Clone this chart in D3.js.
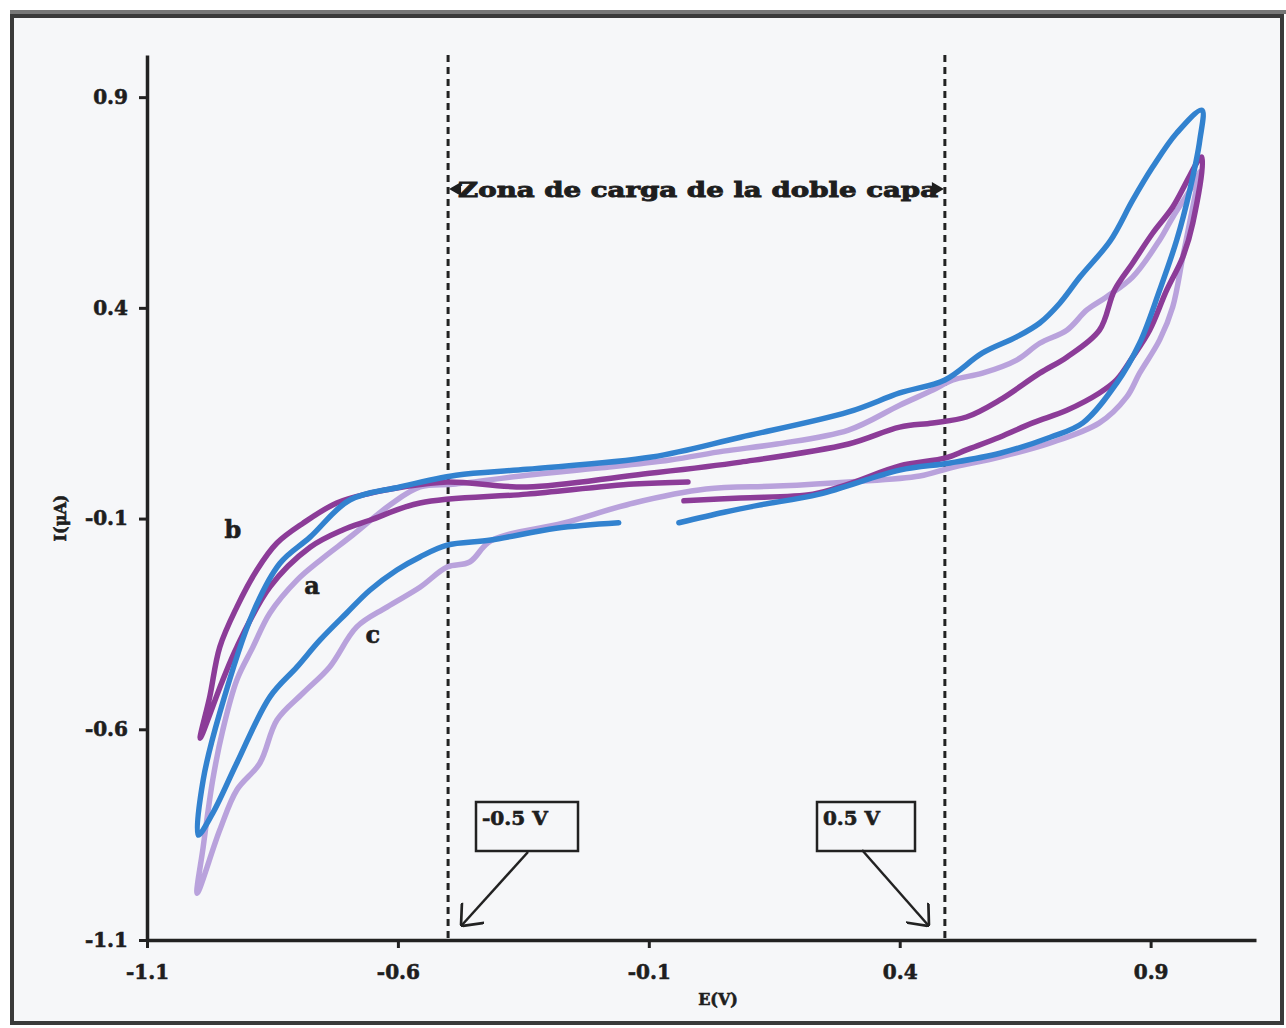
<!DOCTYPE html>
<html>
<head>
<meta charset="utf-8">
<script src="https://cdn.jsdelivr.net/npm/d3@7"></script>
<style>
  body { margin: 0; background: #fff; }
  svg text { font-family: "DejaVu Serif", serif; font-weight: bold; fill: #1e1e1e; stroke: #1e1e1e; stroke-width: 0.6px; }
</style>
</head>
<body>
<script>
// tick values and labels
const xTicks = [-1.1, -0.6, -0.1, 0.4, 0.9];
const xTickLabels = ["-1.1", "-0.6", "-0.1", "0.4", "0.9"];
const yTicks = [-1.1, -0.6, -0.1, 0.4, 0.9];
const yTickLabels = ["-1.1", "-0.6", "-0.1", "0.4", "0.9"];

// limits of the double layer zone (V)
const zoneBounds = [-0.5, 0.49];

// voltammograms, [E (V), I (uA)]
const blueCurve = [
  [-0.04, -0.11], [0.05, -0.085], [0.12, -0.068], [0.24, -0.042], [0.40, 0.015], [0.50, 0.032],
  [0.60, 0.055], [0.70, 0.093], [0.765, 0.127], [0.832, 0.221], [0.878, 0.316], [0.918, 0.442],
  [0.952, 0.561], [0.978, 0.679], [0.998, 0.798], [1.002, 0.869],
  [0.952, 0.815], [0.904, 0.734], [0.864, 0.655], [0.820, 0.560], [0.759, 0.473],
  [0.719, 0.411], [0.679, 0.364], [0.633, 0.331], [0.565, 0.293], [0.49, 0.229], [0.40, 0.198],
  [0.298, 0.153], [0.083, 0.093], [-0.094, 0.046], [-0.343, 0.017], [-0.484, 0.003], [-0.596, -0.025],
  [-0.696, -0.056], [-0.775, -0.144], [-0.835, -0.206], [-0.889, -0.324], [-0.955, -0.561],
  [-0.988, -0.72], [-0.998, -0.851],
  [-0.969, -0.799], [-0.921, -0.68], [-0.855, -0.523], [-0.801, -0.452], [-0.755, -0.388],
  [-0.702, -0.324], [-0.656, -0.27], [-0.602, -0.222], [-0.556, -0.191], [-0.502, -0.163],
  [-0.415, -0.151], [-0.285, -0.123], [-0.16, -0.11]
];

const purpleCurve = [
  [-0.03, -0.058], [0.083, -0.051], [0.227, -0.042], [0.298, -0.018], [0.40, 0.025], [0.492, 0.044],
  [0.533, 0.063], [0.599, 0.093], [0.665, 0.127], [0.733, 0.157], [0.798, 0.198], [0.832, 0.229],
  [0.864, 0.283], [0.898, 0.347], [0.932, 0.442], [0.964, 0.52], [0.984, 0.601], [1.002, 0.758],
  [0.944, 0.639], [0.904, 0.577], [0.864, 0.506], [0.828, 0.442], [0.798, 0.347], [0.733, 0.283],
  [0.679, 0.245], [0.599, 0.181], [0.533, 0.141], [0.466, 0.127], [0.40, 0.117], [0.298, 0.077],
  [0.083, 0.034], [-0.13, 0.003], [-0.343, -0.025], [-0.502, -0.013], [-0.59, -0.025], [-0.656, -0.04],
  [-0.722, -0.063], [-0.789, -0.111], [-0.841, -0.158], [-0.881, -0.222], [-0.921, -0.31],
  [-0.955, -0.405], [-0.975, -0.523], [-0.994, -0.621],
  [-0.949, -0.483], [-0.921, -0.405], [-0.855, -0.262], [-0.775, -0.168], [-0.71, -0.127],
  [-0.656, -0.104], [-0.556, -0.063], [-0.343, -0.042], [-0.13, -0.018], [-0.022, -0.013]
];

const lavenderCurve = [
  [0.998, 0.722], [0.978, 0.679], [0.944, 0.615], [0.918, 0.561], [0.864, 0.473], [0.812, 0.426],
  [0.773, 0.395], [0.733, 0.347], [0.679, 0.316], [0.633, 0.276], [0.565, 0.245], [0.506, 0.229],
  [0.466, 0.205], [0.40, 0.169], [0.298, 0.11], [0.155, 0.077], [0.049, 0.06], [-0.058, 0.039],
  [-0.2, 0.02], [-0.343, 0.003], [-0.485, -0.018], [-0.556, -0.025], [-0.616, -0.068], [-0.69, -0.139],
  [-0.755, -0.199], [-0.801, -0.246], [-0.855, -0.324], [-0.889, -0.405], [-0.921, -0.483],
  [-0.949, -0.602], [-0.969, -0.72], [-0.988, -0.879], [-1.0, -0.989],
  [-0.955, -0.839], [-0.921, -0.744], [-0.875, -0.68], [-0.841, -0.578], [-0.789, -0.514],
  [-0.736, -0.452], [-0.682, -0.357], [-0.622, -0.31], [-0.556, -0.263], [-0.502, -0.215],
  [-0.457, -0.203], [-0.415, -0.153], [-0.271, -0.111], [-0.13, -0.063], [0.014, -0.03],
  [0.155, -0.023], [0.298, -0.013], [0.44, 0.001], [0.5, 0.02], [0.599, 0.046], [0.699, 0.079],
  [0.798, 0.127], [0.852, 0.188], [0.878, 0.245], [0.918, 0.324], [0.944, 0.402], [0.964, 0.52],
  [0.984, 0.639], [0.998, 0.722]
];

// curve letters
const curveNames = ["a", "b", "c"];
const curveNameE = [-0.771, -0.929, -0.65];
const curveNameI = [-0.26, -0.127, -0.376];

const width = 1286;
const height = 1028;

const svg = d3.select("body")
  .append("svg")
  .attr("width", width)
  .attr("height", height);

// frame of the scanned figure
svg.append("rect")
  .attr("x", 12).attr("y", 16)
  .attr("width", 1270).attr("height", 1007)
  .attr("fill", "#f6f7f9")
  .attr("stroke", "#3a3a3a")
  .attr("stroke-width", 4);
svg.append("line")
  .attr("x1", 10).attr("x2", 1286)
  .attr("y1", 12).attr("y2", 12)
  .attr("stroke", "#777")
  .attr("stroke-width", 4);

// scales
const x = d3.scaleLinear().domain([-1.1, 1.11]).range([147, 1256]);
const y = d3.scaleLinear().domain([-1.1, 1.0]).range([940, 55]);

// X axis
const gx = svg.append("g")
  .attr("transform", `translate(0, ${y(-1.1)})`)
  .call(d3.axisBottom(x)
    .tickValues(xTicks)
    .tickFormat((d, i) => xTickLabels[i])
    .tickSize(8)
    .tickSizeOuter(0)
    .tickPadding(17));

// Y axis
const gy = svg.append("g")
  .attr("transform", `translate(${x(-1.1)}, 0)`)
  .call(d3.axisLeft(y)
    .tickValues(yTicks)
    .tickFormat((d, i) => yTickLabels[i])
    .tickSize(8)
    .tickSizeOuter(0)
    .tickPadding(11));

[gx, gy].forEach(g => {
  g.attr("font-size", 20);
  g.select(".domain").attr("stroke", "#222").attr("stroke-width", 3.5);
  g.selectAll(".tick line").attr("stroke", "#222").attr("stroke-width", 3);
});

// axis titles
svg.append("text")
  .attr("x", 718).attr("y", 1005)
  .attr("text-anchor", "middle")
  .attr("font-size", 16)
  .text("E(V)");

svg.append("text")
  .attr("transform", "translate(66, 518) rotate(-90)")
  .attr("text-anchor", "middle")
  .attr("font-size", 16)
  .text("I(μA)");

// dashed zone limits
svg.selectAll(".zone")
  .data(zoneBounds)
  .enter()
  .append("line")
  .attr("class", "zone")
  .attr("x1", d => x(d)).attr("x2", d => x(d))
  .attr("y1", y(1.0)).attr("y2", y(-1.1))
  .attr("stroke", "#222")
  .attr("stroke-width", 3)
  .attr("stroke-dasharray", "7,5");

// curves
const line = d3.line()
  .x(d => x(d[0]))
  .y(d => y(d[1]))
  .curve(d3.curveCatmullRom.alpha(0.5));

const series = [
  { data: lavenderCurve, color: "#b9a2dc" },
  { data: purpleCurve, color: "#8c3c98" },
  { data: blueCurve, color: "#3282cf" }
];

svg.selectAll(".cv")
  .data(series)
  .enter()
  .append("path")
  .attr("class", "cv")
  .attr("d", d => line(d.data))
  .attr("fill", "none")
  .attr("stroke", d => d.color)
  .attr("stroke-width", 5.5)
  .attr("stroke-linejoin", "round")
  .attr("stroke-linecap", "round");

// curve letters
svg.selectAll(".name")
  .data(curveNames)
  .enter()
  .append("text")
  .attr("class", "name")
  .attr("x", (d, i) => x(curveNameE[i]))
  .attr("y", (d, i) => y(curveNameI[i]))
  .attr("dy", "0.35em")
  .attr("text-anchor", "middle")
  .attr("font-size", 24)
  .text(d => d);

// title with arrowheads between the dashed lines
const yTitle = 189;
svg.append("text")
  .attr("x", x(zoneBounds[0]) + 10)
  .attr("y", yTitle + 8)
  .attr("font-size", 21)
  .attr("textLength", 480)
  .attr("lengthAdjust", "spacingAndGlyphs")
  .style("stroke-width", "0.9px")
  .text("Zona de carga de la doble capa");

svg.append("path")
  .attr("d", `M${x(zoneBounds[0]) + 1},${yTitle} l12,-7 v14 Z`)
  .attr("fill", "#1e1e1e");
svg.append("path")
  .attr("d", `M${x(zoneBounds[1]) - 1},${yTitle} l-12,-7 v14 Z`)
  .attr("fill", "#1e1e1e");

// boxed labels with arrows
const defs = svg.append("defs");
defs.append("marker")
  .attr("id", "vhead")
  .attr("viewBox", "0 0 10 10")
  .attr("refX", 9.5).attr("refY", 5)
  .attr("markerWidth", 30).attr("markerHeight", 30)
  .attr("markerUnits", "userSpaceOnUse")
  .attr("orient", "auto")
  .append("path")
  .attr("d", "M4,0 L10,5 L4,10")
  .attr("fill", "none")
  .attr("stroke", "#222")
  .attr("stroke-width", 0.9);

const boxes = [
  { label: "-0.5 V", bx: 476, bw: 102, tl: 66, from: [528, 852], to: [462, 925] },
  { label: "0.5 V", bx: 817, bw: 98, tl: 57, from: [862, 850], to: [928, 925] }
];

boxes.forEach(b => {
  svg.append("rect")
    .attr("x", b.bx).attr("y", 802)
    .attr("width", b.bw).attr("height", 49)
    .attr("fill", "#f6f7f9")
    .attr("stroke", "#222")
    .attr("stroke-width", 2.5);
  svg.append("text")
    .attr("x", b.bx + 6).attr("y", 825)
    .attr("font-size", 18)
    .attr("textLength", b.tl)
    .attr("lengthAdjust", "spacingAndGlyphs")
    .text(b.label);
  svg.append("line")
    .attr("x1", b.from[0]).attr("y1", b.from[1])
    .attr("x2", b.to[0]).attr("y2", b.to[1])
    .attr("stroke", "#222")
    .attr("stroke-width", 2.5)
    .attr("marker-end", "url(#vhead)");
});
</script>
</body>
</html>
